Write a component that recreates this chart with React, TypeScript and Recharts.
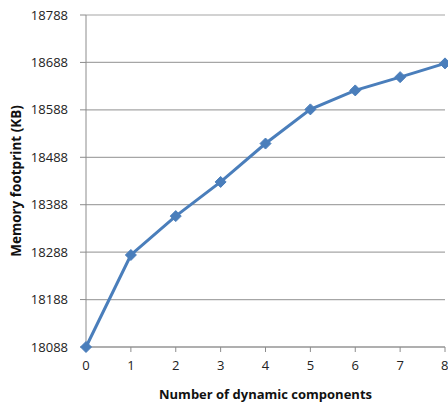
import { LineChart, Line, XAxis, YAxis, CartesianGrid, Label } from 'recharts';

const components = [0, 1, 2, 3, 4, 5, 6, 7, 8];
const memoryKB = [18088, 18282, 18364, 18436, 18517, 18589, 18629, 18657, 18686];
const yTicks = [18088, 18188, 18288, 18388, 18488, 18588, 18688, 18788];

const data = components.map((n, i) => ({ n, kb: memoryKB[i] }));

const LINE_COLOR = '#4a7ebb';
const FONT = 'Open Sans, Liberation Sans, sans-serif';

// diamond marker, like the Excel default
const Diamond = (props: any) => {
  const { cx, cy, index } = props;
  if (cx == null || cy == null) return null;
  const r = 5.5;
  return (
    <polygon
      key={`d-${index}`}
      points={`${cx},${cy - r} ${cx + r},${cy} ${cx},${cy + r} ${cx - r},${cy}`}
      fill={LINE_COLOR}
      stroke={LINE_COLOR}
      strokeWidth={1}
    />
  );
};

export default function App() {
  return (
    <div style={{ position: 'absolute', left: 0, top: 0, width: 448, height: 403, background: '#fff' }}>
      <LineChart
        width={448}
        height={403}
        data={data}
        margin={{ top: 15, right: 3, left: 0, bottom: 0 }}
      >
        <CartesianGrid vertical={false} stroke="#a6a6a6" strokeWidth={1.2} />
        <XAxis
          dataKey="n"
          type="number"
          domain={[0, 8]}
          ticks={components}
          height={56}
          stroke="#8c8c8c"
          tickSize={5}
          tickMargin={9}
          tick={{ fill: '#222', fontSize: 13, fontFamily: FONT }}
        >
          <Label
            value="Number of dynamic components"
            position="insideBottom"
            offset={4}
            style={{ fill: '#111', fontSize: 13, fontWeight: 'bold', fontFamily: FONT }}
          />
        </XAxis>
        <YAxis
          domain={[18088, 18788]}
          ticks={yTicks}
          width={86}
          stroke="#8c8c8c"
          tickSize={6}
          tickMargin={12}
          interval={0}
          tick={{ fill: '#222', fontSize: 13, fontFamily: FONT }}
        >
          <Label
            value="Memory footprint (KB)"
            angle={-90}
            position="insideLeft"
            offset={16}
            style={{ fill: '#111', fontSize: 13.5, fontWeight: 'bold', fontFamily: FONT, textAnchor: 'middle' }}
          />
        </YAxis>
        <Line
          type="linear"
          dataKey="kb"
          stroke={LINE_COLOR}
          strokeWidth={3}
          dot={<Diamond />}
          activeDot={false}
          isAnimationActive={false}
        />
      </LineChart>
    </div>
  );
}
